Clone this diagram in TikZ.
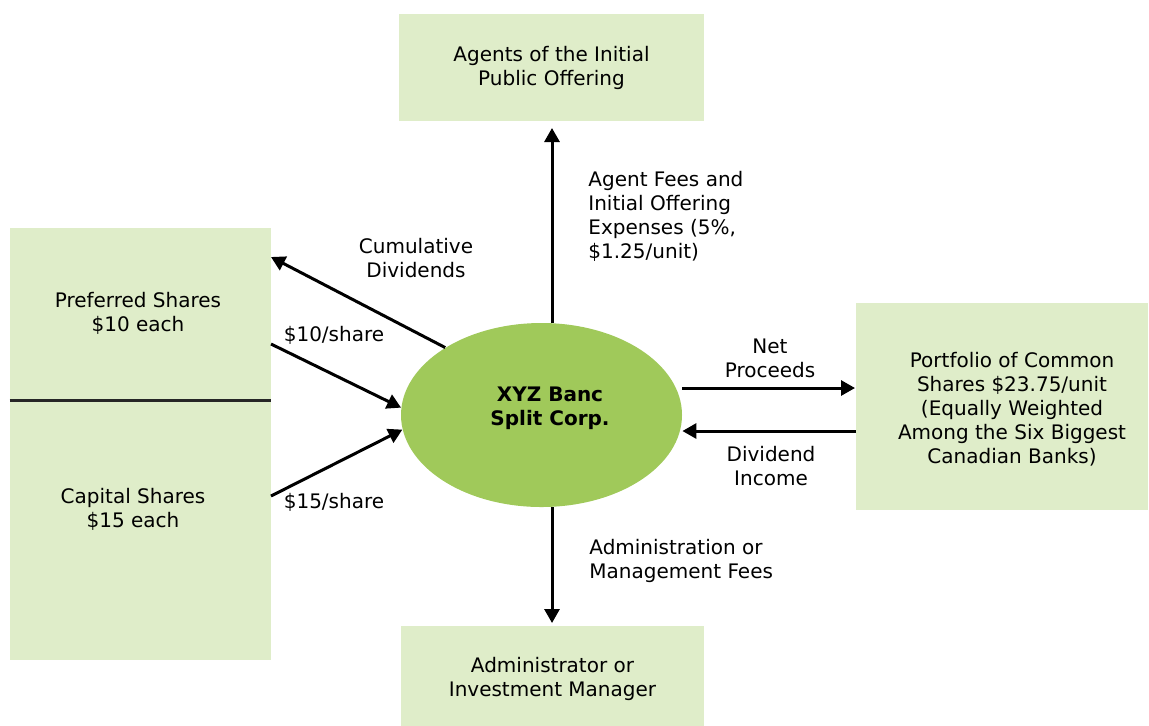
\documentclass[tikz,border=0pt]{standalone}
\usepackage{fontspec}
\setmainfont{DejaVu Sans}
\usetikzlibrary{arrows.meta,shapes.geometric}
\definecolor{boxgreen}{RGB}{223,237,201}
\definecolor{corpgreen}{RGB}{160,201,90}
\tikzset{
  box/.style={shape=rectangle, fill=boxgreen, align=center, inner sep=0pt},
  lbl/.style={align=center, inner sep=0pt},
  arr/.style={-{Triangle[width=7.5pt,length=7pt]}, line width=1.5pt},
}
\begin{document}
\begin{tikzpicture}[x=0.5pt,y=-0.5pt,font=\fontsize{10}{12}\selectfont]
    \useasboundingbox (0,0) rectangle (1149,725);

    \node[box, minimum width=152.5pt, minimum height=53.5pt] (agents) at (551.5,67.5) {Agents of the Initial\\Public Offering};
    \node[box, minimum width=130.5pt, minimum height=216pt] (shares) at (140.5,444) {};
    \node[box, minimum width=146pt, minimum height=103.5pt] (port) at (1002,406.5) {};
    \node[box, minimum width=151.5pt, minimum height=53pt] (admin) at (552.5,679) {Administrator or\\Investment Manager};
    \node[shape=ellipse, fill=corpgreen, minimum width=140.5pt, minimum height=92pt, inner sep=0pt] (corp) at (541.5,415) {};

    %texts of the boxes
    \node[lbl, font=\fontsize{10}{12}\selectfont\bfseries] (corplbl) at (550,408) {XYZ Banc\\Split Corp.};
    \node[lbl] (portlbl) at (1012,409) {Portfolio of Common\\Shares \$23.75/unit\\(Equally Weighted\\Among the Six Biggest\\Canadian Banks)};
    \node[lbl] (pref) at (138,313) {Preferred Shares\\\$10 each};
    \node[lbl] (cap) at (133,509) {Capital Shares\\\$15 each};
    \coordinate (split) at (0,400);
    \draw[line width=1.5pt, black!85] (shares.west |- split) -- (shares.east |- split);

    %points on the boxes
    \coordinate (cumtip) at (271,257);
    \coordinate (prefout) at (271,344);
    \coordinate (capout) at (271,496);
    \coordinate (agtip) at (552,128);
    \coordinate (admtip) at (552,623);
    \coordinate (nettip) at (855,388);
    \coordinate (divstart) at (856,431);

    %arrows
    \draw[arr] (corp.145) -- (cumtip);
    \draw[arr] (prefout) -- (corp.177);
    \draw[arr] (capout) -- (corp.186);
    \draw[arr] (agtip |- corp.north) -- (agtip);
    \draw[arr] (admtip |- corp.south) -- (admtip);
    \draw[arr] (nettip -| corp.east) -- (nettip);
    \draw[arr] (divstart) -- (divstart -| corp.east);

    %labels
    \node[lbl] (cumlbl) at (416,258) {Cumulative\\Dividends};
    \node[lbl] (tenlbl) at (334,335) {\$10/share};
    \node[lbl] (fifteenlbl) at (334,502) {\$15/share};
    \node[lbl, align=left, anchor=west] (feelbl) at (588,216.5) {Agent Fees and\\Initial Offering\\Expenses (5\%,\\\$1.25/unit)};
    \node[lbl] (netlbl) at (770,358) {Net\\Proceeds};
    \node[lbl] (divlbl) at (771,466) {Dividend\\Income};
    \node[lbl, align=left, anchor=west] (admlbl) at (589,561) {Administration or\\Management Fees};
\end{tikzpicture}
\end{document}
